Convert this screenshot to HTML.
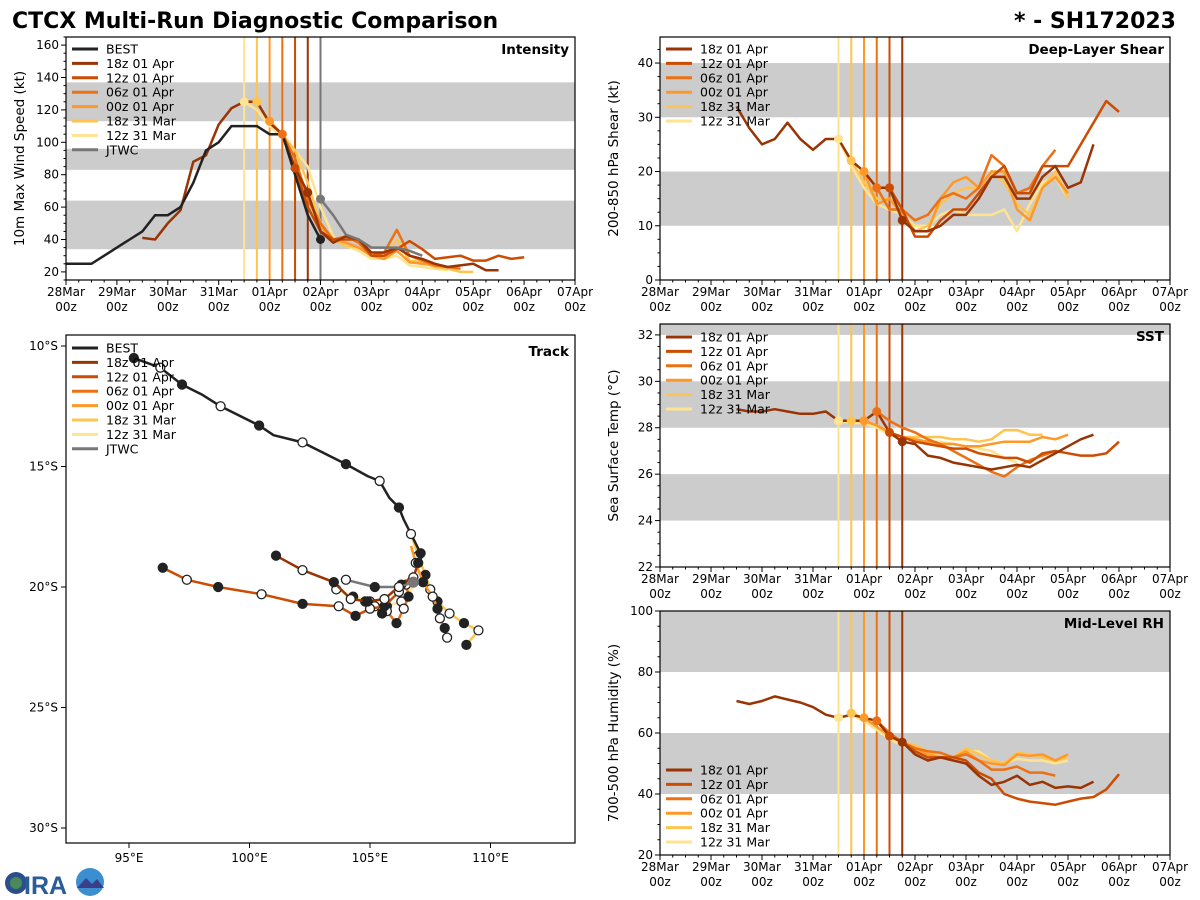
<!DOCTYPE html>
<html><head><meta charset="utf-8"><style>
body{margin:0;background:#fff;}
svg{display:block;font-family:"DejaVu Sans","Liberation Sans",sans-serif;}
</style></head><body>
<svg id="fig" width="1200" height="900" viewBox="0 0 1200 900" xmlns="http://www.w3.org/2000/svg">
<text x="12" y="28" font-size="22" font-weight="bold">CTCX Multi-Run Diagnostic Comparison</text>
<text x="1176" y="28" font-size="22" font-weight="bold" text-anchor="end">* - SH172023</text>
<g>
<circle cx="16" cy="883" r="11" fill="#2a4f8a"/>
<circle cx="16" cy="883" r="6" fill="#4a8a5a"/>
<text x="24" y="894" font-size="25" font-weight="bold" fill="#2a5c9a" font-family="Liberation Sans, sans-serif">IRA</text>
<circle cx="90" cy="882" r="14" fill="#3b8fd0"/>
<path d="M77 888 L86 878 L92 884 L97 879 L104 888 Z" fill="#3a3f8a"/>
</g>
</svg>
<script>
// ---------- data ----------
const runNames = ["18z 01 Apr","12z 01 Apr","06z 01 Apr","00z 01 Apr","18z 31 Mar","12z 31 Mar"];
const runInit = [114,108,102,96,90,84]; // hours since 28 Mar 00z
const dayLabels = ["28Mar","29Mar","30Mar","31Mar","01Apr","02Apr","03Apr","04Apr","05Apr","06Apr","07Apr"];
// Intensity (kt), 6-hourly from start hour
const bestStart = 0;
const bestInt = [25,25,25,30,35,40,45,55,55,60,75,95,100,110,110,110,105,105,80,55,40];
const jtwcStart = 120;
const jtwcInt = [65,55,43,40,35,35,35,33,30];
const intStart = [36,108,102,96,90,84];
const int18z01 = [41,40,50,58,88,92,111,121,125,125,112,105,84,69,45,38,42,40,32,32,35,30,28,25,23,24,25,21,21];
const int12z01 = [84,60,45,40,40,40,30,30,34,39,34,28,29,30,27,27,30,28,29];
const int06z01 = [105,90,65,50,40,42,38,30,32,46,30,27,24,23,22];
const int00z01 = [113,105,85,65,48,40,38,35,30,28,33,26,25,24,23,24];
const int18z31 = [125,112,105,95,75,50,40,36,35,30,30,40,27,26,23,22,20,20];
const int12z31 = [125,120,110,103,95,85,60,42,36,33,28,28,30,24,23,22,21];
// Shear (kt)
const shrStart = [36,108,102,96,90,84];
const shr18z01 = [32,28,25,26,29,26,24,26,26,22,20,17,17,11,9,9,10,12,12,15,19,19,15,15,19,21,17,18,25];
const shr12z01 = [17,13,8,8,11,13,13,16,19,21,16,16,21,21,21,25,29,33,31];
const shr06z01 = [17,13,13,11,12,15,16,15,17,23,21,16,17,21,24];
const shr00z01 = [20,14,15,12,9,9,15,18,19,17,20,20,13,11,17,19,16];
const shr18z31 = [22,18,15,15,12,9,10,14,16,17,17,20,18,14,12,17,20,15];
const shr12z31 = [26,21,17,14,13,12,10,10,12,13,12,12,12,13,9,14,18,19,15];
// SST (C)
const sstStart = [36,108,102,96,90,84];
const sst18z01 = [28.8,28.7,28.7,28.8,28.7,28.6,28.6,28.7,28.3,28.3,28.3,28.7,27.8,27.4,27.3,26.8,26.7,26.5,26.4,26.3,26.2,26.3,26.4,26.3,26.6,26.9,27.2,27.5,27.7];
const sst12z01 = [27.8,27.6,27.4,27.3,27.2,27.1,27.1,26.9,26.8,26.7,26.7,26.5,26.9,27.0,26.9,26.8,26.8,26.9,27.4];
const sst06z01 = [28.7,28.3,28.0,27.8,27.5,27.3,27.0,26.7,26.4,26.1,25.9,26.3,26.6,26.8,27.0];
const sst00z01 = [28.3,28.1,27.8,27.6,27.5,27.4,27.3,27.3,27.2,27.2,27.3,27.4,27.4,27.4,27.6,27.5,27.7];
const sst18z31 = [28.3,28.3,28.1,27.8,27.6,27.6,27.6,27.6,27.5,27.5,27.4,27.5,27.9,27.9,27.7,27.7];
const sst12z31 = [28.3,28.2,28.2,28.0,27.7,27.5,27.5,27.4,27.4,27.3,27.2,27.1,27.0,26.7,26.5];
// Mid-level RH (%)
const rhStart = [36,108,102,96,90,84];
const rh18z01 = [70.5,69.5,70.5,72,71,70,68.5,66,65,66,65,64,59,57,53,51,52,51,50,46,43,44,46,43,44,42,42.5,42,44];
const rh12z01 = [59,57,54,52,52,52,51,47,45,40,38.5,37.5,37,36.5,37.5,38.5,39,41.5,46.5];
const rh06z01 = [64,60,57,55,54,53.5,52,53,51,48,48,49,47,47,46];
const rh00z01 = [65,62,59,57,55,53,52,52,54,51,50,49.5,53,52.5,53,51,53];
const rh18z31 = [66.5,65,62,59,57,56,54,52,52,55,53,51,50,53.5,53,52,51,52];
const rh12z31 = [65,66,64,61,58,56,55,53,52,52,54,54,51,50,51.5,51,51,50,51];
// Tracks (lon E, lat S)
const bestLon = [95.2,96.3,97.2,98.0,98.8,100.4,101.0,102.2,104.0,104.9,105.4,105.8,106.2,106.4,106.7,107.1,107.0];
const bestLat = [10.5,10.9,11.6,12.0,12.5,13.3,13.7,14.0,14.9,15.4,15.6,16.3,16.7,17.2,17.8,18.6,19.0];
const bestMark = [1,2,1,0,2,1,0,2,1,0,2,0,1,0,2,1,1];
const trk18z01Lon = [107.0,106.8,106.3,105.6,104.9,104.2,103.5,102.2,101.1];
const trk18z01Lat = [19.0,19.6,19.9,20.5,20.6,20.5,19.8,19.3,18.7];
const trk12z01Lon = [106.8,106.2,105.6,105.0,104.4,103.7,102.2,100.5,98.7,97.4,96.4];
const trk12z01Lat = [19.4,20.2,20.8,20.9,21.2,20.8,20.7,20.3,20.0,19.7,19.2];
const trk06z01Lon = [106.8,106.5,106.6,106.4,106.1,105.7,105.5,105.2,104.8];
const trk06z01Lat = [19.5,19.9,20.4,20.9,21.5,21.0,21.1,20.8,20.6];
const trk00z01Lon = [106.7,106.9,107.2,107.6,107.8,107.9,108.1,108.2];
const trk00z01Lat = [18.3,19.0,19.8,20.4,20.9,21.3,21.7,22.1];
const trk18z31Lon = [106.7,107.0,107.3,107.5,107.8,108.3,108.9,109.5,109.0];
const trk18z31Lat = [17.8,18.7,19.5,20.1,20.6,21.1,21.5,21.8,22.4];
const trk12z31Lon = [106.8,106.3,105.7,105.0,104.3,103.6];
const trk12z31Lat = [20.0,20.6,20.8,20.6,20.4,20.1];
const jtwcLon = [106.8,106.2,105.2,104.0];
const jtwcLat = [19.8,20.0,20.0,19.7];

const colors = ["#993404","#cc4c02","#ec7014","#fe9929","#fec44f","#fee391"];
const NS = "http://www.w3.org/2000/svg";
const fig = document.getElementById('fig');
function mk(tag, attrs, parent){const e=document.createElementNS(NS,tag);for(const k in attrs)e.setAttribute(k,attrs[k]);(parent||fig).appendChild(e);return e;}

function timePanel(o){
  const g = mk('g',{});
  
  
  const X = t => o.x0 + (t/240)*(o.x1-o.x0);
  const Y = v => o.y1 - (v-o.vmin)/(o.vmax-o.vmin)*(o.y1-o.y0);
  o.bands.forEach(b=>{
    const r = mk('rect',{x:o.x0,y:Y(Math.min(b[1],o.vmax)),width:o.x1-o.x0,height:Y(b[0])-Y(Math.min(b[1],o.vmax)),fill:'#cccccc'},g);
    
    
  });
  const inits = o.jtwc ? runInit.concat([120]) : runInit;
  inits.forEach((t,i)=>{
    const l = mk('line',{x1:X(t),x2:X(t),y1:o.y0,y2:o.y1,stroke:i<6?colors[i]:'#777777','stroke-width':2},g);
    
    
  });
  for(let i=5;i>=0;i--){
    const vals=o.series[i], st=o.starts[i];
    const pts=vals.map((v,k)=>X(st+6*k).toFixed(1)+','+Y(v).toFixed(1)).join(' ');
    const p = mk('polyline',{points:pts,fill:'none',stroke:colors[i],'stroke-width':2.5,'stroke-linejoin':'round'},g);
    
    
  }
  if(o.best){
    const pts=o.best.map((v,k)=>X(bestStart+6*k)+','+Y(v)).join(' ');
    const p = mk('polyline',{points:pts,fill:'none',stroke:'#222222','stroke-width':2.5},g);
    
    
    const n=o.best.length-1;
    mk('circle',{cx:X(bestStart+6*n),cy:Y(o.best[n]),r:4.5,fill:'#222'},g);
  }
  if(o.jtwc){
    const pts=o.jtwc.map((v,k)=>X(jtwcStart+6*k)+','+Y(v)).join(' ');
    const p = mk('polyline',{points:pts,fill:'none',stroke:'#777777','stroke-width':2.5},g);
    
    
    mk('circle',{cx:X(jtwcStart),cy:Y(o.jtwc[0]),r:4.5,fill:'#777'},g);
  }
  for(let i=5;i>=0;i--){
    const k=(runInit[i]-o.starts[i])/6;
    const c = mk('circle',{cx:X(runInit[i]),cy:Y(o.series[i][k]),r:4.5,fill:colors[i]},g);
    
    
  }
  mk('rect',{x:o.x0,y:o.y0,width:o.x1-o.x0,height:o.y1-o.y0,fill:'none',stroke:'#000','stroke-width':1.2},g);
  for(let t=0;t<=240;t+=6){
    const major=t%24===0;
    mk('line',{x1:X(t),x2:X(t),y1:o.y1,y2:o.y1+(major?5:2.5),stroke:'#000','stroke-width':1},g);
    if(major){
      const d=t/24;
      const tl = mk('text',{x:X(t),y:o.y1+16,'font-size':12,'text-anchor':'middle'},g);
      tl.textContent=dayLabels[d];
      
      
      const tl2 = mk('text',{x:X(t),y:o.y1+31,'font-size':12,'text-anchor':'middle'},g);
      tl2.textContent='00z';
    }
  }
  for(let v=o.minorStart; v<=o.vmax+1e-6; v+=o.minor){
    const major=Math.abs((v-o.ticks[0])/o.major-Math.round((v-o.ticks[0])/o.major))<1e-6;
    mk('line',{x1:o.x0,x2:o.x0-(major?5:2.5),y1:Y(v),y2:Y(v),stroke:'#000','stroke-width':1},g);
  }
  o.ticks.forEach(v=>{
    const tl = mk('text',{x:o.x0-7,y:Y(v)+4,'font-size':12,'text-anchor':'end'},g);
    tl.textContent=v;
    
    
  });
  const yt = mk('text',{x:0,y:0,'font-size':13.5,'text-anchor':'middle',transform:`translate(${o.x0-42},${(o.y0+o.y1)/2}) rotate(-90)`},g);
  yt.textContent=o.ylabel;
  
  
  const pt = mk('text',{x:o.x1-6,y:o.y0+17,'font-size':13.5,'font-weight':'bold','text-anchor':'end'},g);
  pt.textContent=o.title;
  
  
  const entries=[];
  if(o.best) entries.push(['BEST','#222222']);
  runNames.forEach((n,i)=>entries.push([n,colors[i]]));
  if(o.jtwc) entries.push(['JTWC','#777777']);
  entries.forEach((e,i)=>{
    const y=o.legY+i*14.4;
    const l=mk('line',{x1:o.x0+6,x2:o.x0+32,y1:y,y2:y,stroke:e[1],'stroke-width':3},g);
    
    
    const t=mk('text',{x:o.x0+40,y:y+4.5,'font-size':12.5},g);
    t.textContent=e[0];
    
    
  });
}

timePanel({name:'intensity-panel',x0:66,x1:575,y0:37,y1:280,vmin:15,vmax:165,ticks:[20,40,60,80,100,120,140,160],major:20,minor:5,minorStart:15,
  bands:[[34,64],[83,96],[113,137]],series:[int18z01,int12z01,int06z01,int00z01,int18z31,int12z31],starts:intStart,best:bestInt,jtwc:jtwcInt,
  ylabel:'10m Max Wind Speed (kt)',title:'Intensity',legY:49});
timePanel({name:'shear-panel',x0:660,x1:1170,y0:37,y1:280,vmin:0,vmax:44.8,ticks:[0,10,20,30,40],major:10,minor:2.5,minorStart:0,
  bands:[[10,20],[30,40]],series:[shr18z01,shr12z01,shr06z01,shr00z01,shr18z31,shr12z31],starts:shrStart,
  ylabel:'200-850 hPa Shear (kt)',title:'Deep-Layer Shear',legY:49});
timePanel({name:'sst-panel',x0:660,x1:1170,y0:324,y1:567,vmin:22,vmax:32.47,ticks:[22,24,26,28,30,32],major:2,minor:0.5,minorStart:22,
  bands:[[24,26],[28,30],[32,33]],series:[sst18z01,sst12z01,sst06z01,sst00z01,sst18z31,sst12z31],starts:sstStart,
  ylabel:'Sea Surface Temp (°C)',title:'SST',legY:337});
timePanel({name:'rh-panel',x0:660,x1:1170,y0:611,y1:855,vmin:20,vmax:100,ticks:[20,40,60,80,100],major:20,minor:5,minorStart:20,
  bands:[[40,60],[80,100]],series:[rh18z01,rh12z01,rh06z01,rh00z01,rh18z31,rh12z31],starts:rhStart,
  ylabel:'700-500 hPa Humidity (%)',title:'Mid-Level RH',legY:770});

(function(){
  const x0=66,x1=575,y0=335,y1=843;
  const LX = lon => 129 + (lon-95)*24.1;
  const LY = lat => 346 + (lat-10)*24.1;
  const g = mk('g',{});
  
  
  function track(lons,lats,col,name,marks){
    const pts=lons.map((l,k)=>LX(l).toFixed(1)+','+LY(lats[k]).toFixed(1)).join(' ');
    const p=mk('polyline',{points:pts,fill:'none',stroke:col,'stroke-width':2.5,'stroke-linejoin':'round'},g);
    
    
    lons.forEach((l,k)=>{
      const m=marks?marks[k]:(k===0?0:(k%2===0?1:2));
      if(!m) return;
      const c=mk('circle',{cx:LX(l),cy:LY(lats[k]),r:4.5,fill:m===1?'#222':'#fff',stroke:'#222','stroke-width':1.3},g);
      
      
    });
  }
  track(trk12z31Lon,trk12z31Lat,colors[5],'track-12z-31-mar');
  track(trk18z31Lon,trk18z31Lat,colors[4],'track-18z-31-mar');
  track(trk00z01Lon,trk00z01Lat,colors[3],'track-00z-01-apr');
  track(trk06z01Lon,trk06z01Lat,colors[2],'track-06z-01-apr');
  track(trk12z01Lon,trk12z01Lat,colors[1],'track-12z-01-apr');
  track(trk18z01Lon,trk18z01Lat,colors[0],'track-18z-01-apr');
  track(jtwcLon,jtwcLat,'#777777','track-jtwc');
  track(bestLon,bestLat,'#222222','track-best',bestMark);
  mk('circle',{cx:LX(jtwcLon[0]),cy:LY(jtwcLat[0]),r:5.5,fill:'#777'},g);
  mk('rect',{x:x0,y:y0,width:x1-x0,height:y1-y0,fill:'none',stroke:'#000','stroke-width':1.2},g);
  [95,100,105,110].forEach(l=>{
    mk('line',{x1:LX(l),x2:LX(l),y1:y1,y2:y1+5,stroke:'#000'},g);
    const t=mk('text',{x:LX(l),y:y1+19,'font-size':12,'text-anchor':'middle'},g);
    t.textContent=l+'°E';
    
    
  });
  [10,15,20,25,30].forEach(l=>{
    mk('line',{x1:x0,x2:x0-5,y1:LY(l),y2:LY(l),stroke:'#000'},g);
    const t=mk('text',{x:x0-8,y:LY(l)+4,'font-size':12,'text-anchor':'end'},g);
    t.textContent=l+'°S';
    
    
  });
  const pt=mk('text',{x:x1-6,y:y0+21,'font-size':13.5,'font-weight':'bold','text-anchor':'end'},g);
  pt.textContent='Track';
  
  
  const entries=[['BEST','#222222']].concat(runNames.map((n,i)=>[n,colors[i]])).concat([['JTWC','#777777']]);
  entries.forEach((e,i)=>{
    const y=348+i*14.4;
    const l=mk('line',{x1:x0+6,x2:x0+32,y1:y,y2:y,stroke:e[1],'stroke-width':3},g);
    
    
    const t=mk('text',{x:x0+40,y:y+4.5,'font-size':12.5},g);
    t.textContent=e[0];
    
    
  });
})();
</script>
</body></html>
